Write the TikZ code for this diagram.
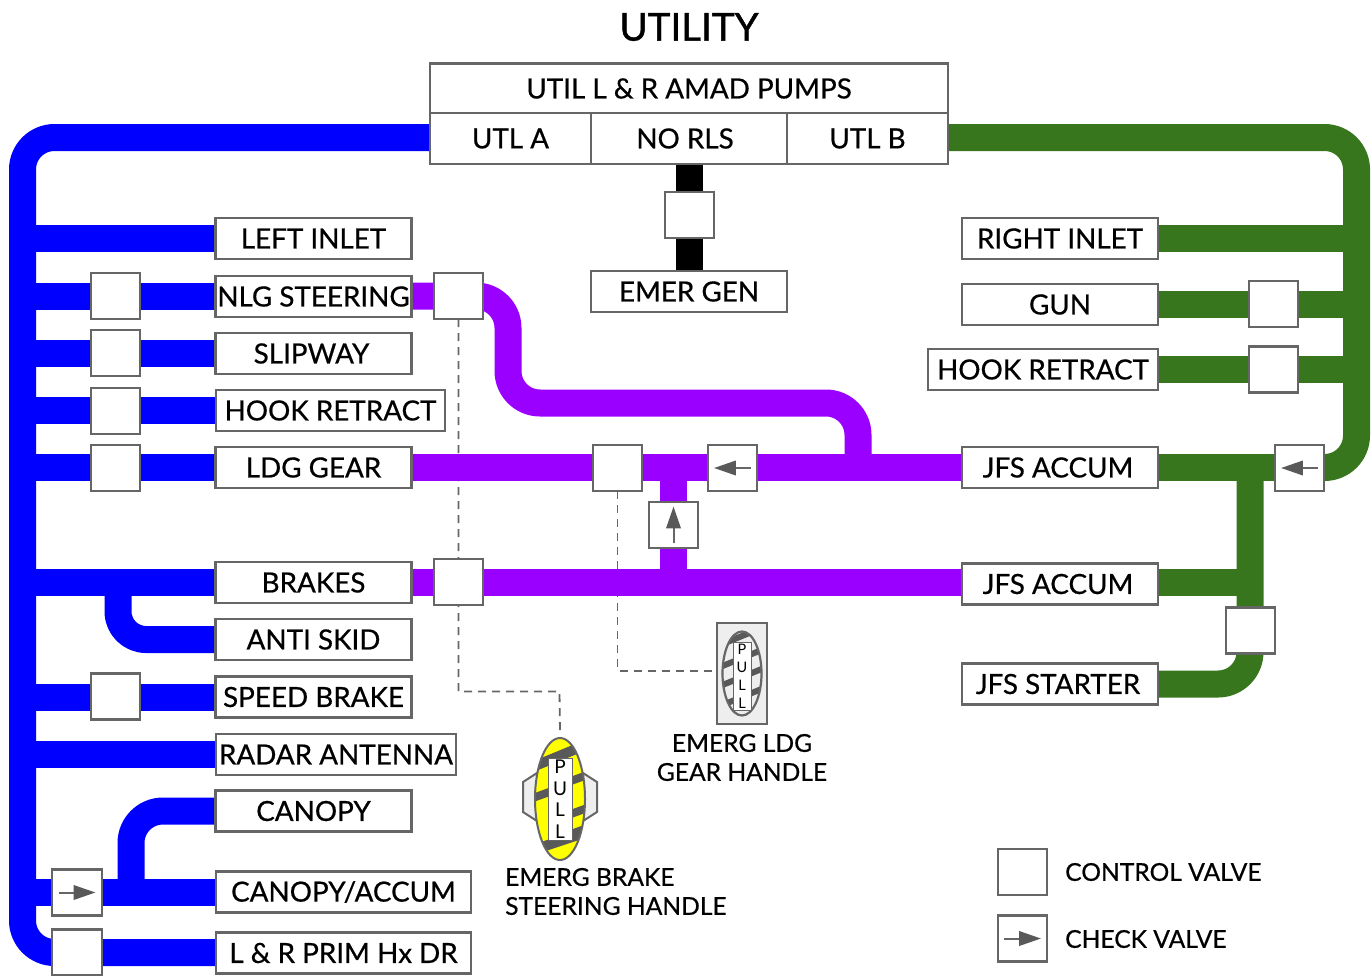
\documentclass[tikz,border=0pt]{standalone}
\usepackage{fontspec}
\setmainfont{Lato}[BoldFont=Lato,BoldFeatures={FakeBold=0.6}]
\newfontfamily\titlefont{Lato}[FakeBold=1.1]
\usetikzlibrary{calc}
\definecolor{pblue}{HTML}{0000FF}
\definecolor{ppurple}{HTML}{9900FF}
\definecolor{pgreen}{HTML}{38761D}
\definecolor{edgegrey}{HTML}{666666}
\definecolor{markgrey}{HTML}{595959}
\definecolor{lightfill}{HTML}{EEEEEE}
\definecolor{hyellow}{HTML}{FFFF00}
\pgfdeclarelayer{dash}
\pgfdeclarelayer{pipe}
\pgfsetlayers{dash,pipe,main}
\tikzset{
  box/.style={draw=edgegrey,line width=2.2pt,fill=white,inner sep=0pt,outer sep=0pt,
    font=\fontsize{27.8}{32}\selectfont\bfseries,text=black},
  lblbox/.style={box,minimum height=41pt,minimum width=196pt},
  valve/.style={draw=edgegrey,line width=2.2pt,fill=white,inner sep=0pt,outer sep=0pt,
    minimum width=49pt,minimum height=46pt},
  pipeline/.style={line width=27pt,line cap=butt,line join=round},
  bp/.style={pipeline,draw=pblue},
  vp/.style={pipeline,draw=ppurple},
  gp/.style={pipeline,draw=pgreen},
  kp/.style={pipeline,draw=black},
  linkage/.style={draw=edgegrey,line width=1.8pt,dash pattern=on 8pt off 6pt},
  captext/.style={font=\fontsize{24.6}{29}\selectfont\bfseries,text=black,inner sep=0pt},
  stripe/.style={draw=markgrey,line width=8pt},
  smallstripe/.style={draw=markgrey,line width=6pt},
}
\newcommand{\chkmark}[2]{%
  \begin{scope}[shift={(#1.center)},rotate=#2]
    \draw[edgegrey,line width=2pt] (-18.3,0) -- (0,0);
    \fill[markgrey] (-3.3,7.5) -- (18.3,0) -- (-3.3,-7.5) -- cycle;
  \end{scope}}
\begin{document}
\begin{tikzpicture}[x=1pt,y=-1pt]
\useasboundingbox (0,0) rectangle (1372,975);
\node[font=\fontsize{38.5}{44}\selectfont\titlefont,text=black,inner sep=0pt] (title) at (689,27) {UTILITY};
% top block
\node[box,minimum width=518pt,minimum height=50pt] (pumps) at (689,88.5) {UTIL L \& R AMAD PUMPS};
\node[box,minimum width=161pt,minimum height=51pt] (utla) at (510.5,138.5) {UTL A};
\node[box,minimum width=196pt,minimum height=51pt] (norls) at (689,138.5) {NO RLS\kern8pt};
\node[box,minimum width=161pt,minimum height=51pt] (utlb) at (867.5,138.5) {UTL B};
\node[lblbox] (emergen) at (689,291.5) {EMER GEN};
\node[valve] (vgen) at (689.5,215) {};
% left labels
\node[lblbox] (leftinlet) at (313.5,238.5) {LEFT INLET};
\node[lblbox] (nlg) at (313.5,296.5) {NLG STEERING};
\node[lblbox] (slipway) at (313.5,353.5) {SLIPWAY\kern4pt};
\node[lblbox,minimum width=229pt] (hookl) at (330.5,410.5) {HOOK RETRACT};
\node[lblbox] (ldg) at (313.5,467.5) {LDG GEAR};
\node[lblbox] (brakes) at (313.5,582.5) {BRAKES};
\node[lblbox] (antiskid) at (313.5,639.5) {ANTI SKID};
\node[lblbox] (speed) at (313.5,697) {SPEED BRAKE};
\node[lblbox,minimum width=240pt] (radar) at (336,754.5) {RADAR ANTENNA};
\node[lblbox] (canopy) at (313.5,811) {CANOPY};
\node[lblbox,minimum width=255pt] (canaccum) at (343.5,892) {CANOPY/ACCUM};
\node[lblbox,minimum width=255pt] (prim) at (343.5,953) {L \& R PRIM Hx DR};
% right labels
\node[lblbox] (rightinlet) at (1060,238.5) {RIGHT INLET};
\node[lblbox] (gun) at (1060,304.5) {GUN};
\node[lblbox,minimum width=230pt] (hookr) at (1043,369.5) {HOOK RETRACT};
\node[lblbox] (jfsa) at (1060,467.5) {JFS ACCUM\kern4pt};
\node[lblbox] (jfsb) at (1060,584) {JFS ACCUM\kern4pt};
\node[lblbox] (starter) at (1060,684) {JFS STARTER\kern4pt};
% left valves
\node[valve] (v1) at (115.5,296) {};
\node[valve] (v2) at (115.5,353) {};
\node[valve] (v3) at (115.5,411) {};
\node[valve] (v4) at (115.5,468) {};
\node[valve] (v5) at (115.5,696.5) {};
\node[valve,minimum width=50pt] (c1) at (77,892.5) {};
\node[valve,minimum width=50pt] (v6) at (77,952.5) {};
% purple valves
\node[valve] (p1) at (458.5,296) {};
\node[valve] (p2) at (617.5,468) {};
\node[valve] (p3) at (458.5,582) {};
\node[valve] (c2) at (732.5,468) {};
\node[valve] (c3) at (673.5,525) {};
% right valves
\node[valve] (g1) at (1273.5,304) {};
\node[valve] (g2) at (1273.5,369.5) {};
\node[valve] (c4) at (1299.5,468) {};
\node[valve] (g3) at (1250.5,630.5) {};
% legend
\node[valve] (legv) at (1022.5,872) {};
\node[valve] (legc) at (1022.5,938.5) {};
\node[captext,anchor=west] (legvt) at (1065,872) {CONTROL VALVE};
\node[captext,anchor=west] (legct) at (1065,939) {CHECK VALVE};
% check arrows
\chkmark{c1}{0}
\chkmark{c2}{180}
\chkmark{c3}{90}
\chkmark{c4}{180}
\chkmark{legc}{0}
% LDG handle
\node[draw=edgegrey,line width=2.2pt,fill=lightfill,minimum width=50pt,minimum height=101pt,inner sep=0pt] (hldg) at (742,673.5) {};
\begin{scope}
  \path[fill=lightfill] (742,673.5) ellipse (19.5 and 42);
  \clip (742,673.5) ellipse (19.5 and 42);
  \draw[smallstripe] (720,645) -- (764,627);
  \draw[smallstripe] (720,667) -- (764,649);
  \draw[smallstripe] (720,686) -- (764,668);
  \draw[smallstripe] (720,706) -- (764,688);
\end{scope}
\draw[edgegrey,line width=2.2pt] (742,673.5) ellipse (19.5 and 42);
\node[draw=edgegrey,line width=1pt,fill=white,minimum width=18pt,minimum height=68pt,inner sep=0pt,
  align=center,font=\fontsize{14.5}{18}\selectfont,text=black] (pull1) at (742,676) {P\\U\\L\\L};
\node[captext,align=center] (capldg) at (742,757.5) {EMERG LDG\\GEAR HANDLE};
% brake handle
\draw[draw=edgegrey,line width=2pt,fill=lightfill] (537,773) -- (523,782) -- (523,812) -- (537,821) -- cycle;
\draw[draw=edgegrey,line width=2pt,fill=lightfill] (583,773) -- (597,782) -- (597,812) -- (583,821) -- cycle;
\begin{scope}
  \path[fill=hyellow] (560,799) ellipse (25 and 61);
  \clip (560,799) ellipse (25 and 61);
  \draw[stripe,line width=10pt] (530,768) -- (576,749);
  \draw[stripe,line width=10pt] (530,851) -- (590,831);
  \draw[stripe] (530,799) -- (552,791);
  \draw[stripe] (568,782) -- (590,774);
  \draw[stripe] (568,815) -- (590,807);
  \draw[smallstripe] (568,834) -- (590,826);
\end{scope}
\draw[edgegrey,line width=2pt] (560,799) ellipse (25 and 61);
\node[draw=edgegrey,line width=1pt,fill=white,minimum width=24pt,minimum height=82pt,inner sep=0pt,
  align=center,font=\fontsize{19}{21.6}\selectfont,text=black] (pull2) at (560,799) {P\\U\\L\\L};
\node[captext,align=left,anchor=west] (capbrake) at (505,891.5) {EMERG BRAKE\\STEERING HANDLE};
% reference points
\coordinate (tl) at (22.5,137.5);
\coordinate (bl) at (22.5,952.5);
\coordinate (tr) at (1356.5,137.5);
\coordinate (br) at (1356.5,467.5);
\coordinate (gv) at (1250,467.5);
\coordinate (gb) at (1250,684);
\coordinate (a1) at (508,296);
\coordinate (a2) at (508,403);
\coordinate (a3) at (858,403);
\coordinate (a4) at (858,468);
\coordinate (ask) at (118,582.5);
\coordinate (ask2) at (118,639.5);
\coordinate (can1) at (131,892.5);
\coordinate (can2) at (131,811);
\coordinate (d1) at (458.5,691.5);
\coordinate (d2) at (559.5,691.5);
\coordinate (d3) at (617.5,671);
\begin{pgfonlayer}{dash}
  \draw[linkage] (p1.south) -- (d1) -- (d2) -- ($(pull2.north)+(0,-24)$);
  \draw[linkage] (p2.south) -- (d3) -- (hldg.west |- d3);
\end{pgfonlayer}
\begin{pgfonlayer}{pipe}
  % black
  \draw[kp] (norls.south) -- (emergen.north);
  % blue
  \draw[bp,rounded corners=32pt] (utla.west |- tl) -- (tl) -- (bl) -- (prim.west |- bl);
  \foreach \n in {leftinlet,nlg,slipway,hookl,ldg,brakes,speed,radar}
    \draw[bp] (\n.west) -- (\n.west -| tl);
  \draw[bp] (canaccum.west |- c1) -- (c1 -| tl);
  \draw[bp,rounded corners=28pt] (ask) -- (ask2) -- (antiskid.west);
  \draw[bp,rounded corners=32pt] (can1) -- (can2) -- (canopy.west);
  % purple
  \draw[vp] (ldg.east) -- (jfsa.west);
  \draw[vp] (brakes.east) -- (jfsb.west |- brakes);
  \draw[vp] (c3 |- ldg) -- (c3 |- brakes);
  \draw[vp,rounded corners=32pt] (nlg.east |- p1) -- (a1) -- (a2) -- (a3) -- (a4);
  % green
  \draw[gp,rounded corners=32pt] (utlb.east |- tr) -- (tr) -- (br) -- (c4.center |- br);
  \draw[gp] (rightinlet.east) -- (rightinlet.east -| tr);
  \draw[gp] (gun.east) -- (gun.east -| tr);
  \draw[gp] (hookr.east) -- (hookr.east -| tr);
  \draw[gp] (jfsa.east) -- (c4.center |- jfsa.east);
  \draw[gp] (jfsb.east |- brakes) -- (gv |- brakes);
  \draw[gp,rounded corners=32pt] (gv) -- (gb) -- (starter.east);
\end{pgfonlayer}
\end{tikzpicture}
\end{document}
